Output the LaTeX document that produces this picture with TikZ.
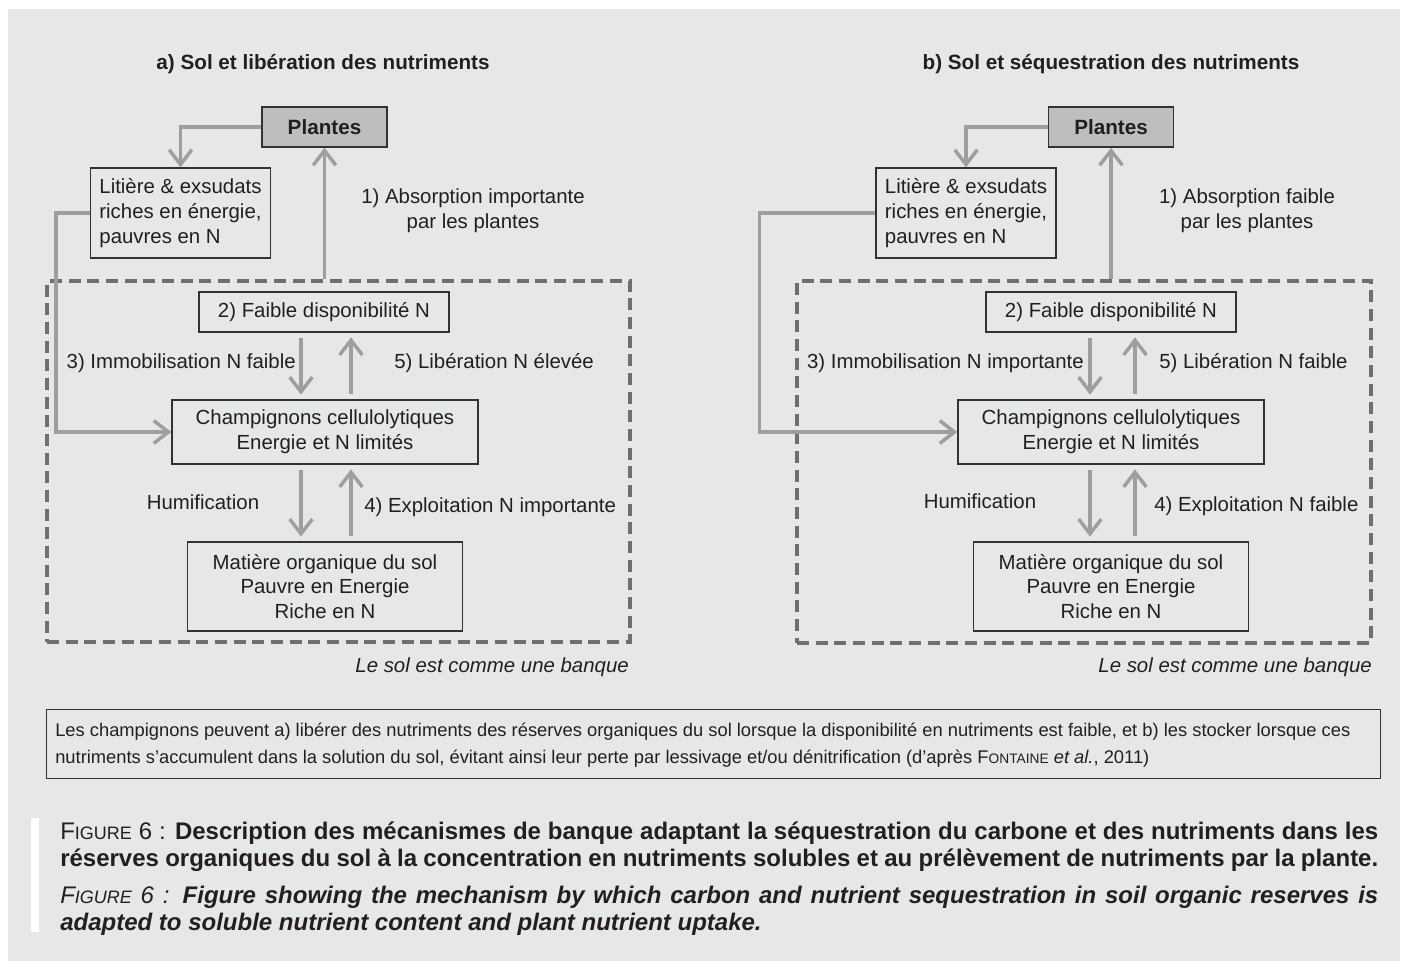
\documentclass[tikz,border=0pt]{standalone}
\usepackage{fontspec}
\setmainfont{Liberation Sans}
\usetikzlibrary{arrows.meta,calc}
\definecolor{bg}{RGB}{230,231,232}
\definecolor{plfill}{RGB}{189,190,192}
\definecolor{arrg}{RGB}{157,158,160}
\definecolor{dashg}{RGB}{110,111,113}
\definecolor{txt}{RGB}{35,31,32}
\definecolor{bord}{RGB}{50,50,50}
\newcommand\tfont{\fontsize{15.5pt}{18pt}\selectfont\bfseries}
\newcommand\dfont{\fontsize{15.3pt}{18.5pt}\selectfont}
\newcommand\nfont{\fontsize{13.75pt}{20.25pt}\selectfont}
\newcommand\cfont{\fontsize{18pt}{20.6pt}\selectfont}
\newcommand\smc[1]{{\fontsize{13.5pt}{14pt}\selectfont #1}}
\newcommand\smn[1]{{\fontsize{10.3pt}{12pt}\selectfont #1}}
\begin{document}
\begin{tikzpicture}[x=0.75pt,y=-0.75pt,
  every node/.style={text=txt},
  box/.style={draw=bord, line width=1.1pt, fill=bg, inner sep=0pt, align=center, font=\dfont},
  plbox/.style={box, fill=plfill, font=\tfont, minimum width=93.75pt, minimum height=30pt},
  arr/.style={draw=arrg, line width=2.6pt, -{Straight Barb[length=11pt,width=17pt]}},
  bank/.style={draw=dashg, line width=2.6pt, dash pattern=on 9pt off 5pt, inner sep=0pt},
  lbl/.style={font=\dfont, inner sep=0pt, align=center},
  gap/.style={shorten <=3.75pt, shorten >=3.5pt}]
\useasboundingbox (0,0) rectangle (1405,967);
\fill[white] (0,0) rectangle (1405,967);
\fill[bg] (8,9) rectangle (1400,961);

% ---------- panel a ----------
\node[font=\tfont] (tA) at (323,64) {a) Sol et libération des nutriments};
\node[plbox] (plA) at (324.5,127) {Plantes};
\node[box, align=left, minimum width=135pt, minimum height=67.5pt] (litA) at (180.5,213)
  {Litière \& exsudats\\riches en énergie,\\pauvres en N};
\node[bank, minimum width=437.25pt, minimum height=270.75pt] (bankA) at (338.5,461.5) {};
\node[box, minimum width=187.5pt, minimum height=30pt] (fA) at (324,312) {2) Faible disponibilité N};
\node[box, minimum width=229.5pt, minimum height=48pt] (chA) at (325,432)
  {Champignons cellulolytiques\\Energie et N limités};
\node[box, minimum width=206.25pt, minimum height=66.75pt] (maA) at (325,586.5)
  {Matière organique du sol\\Pauvre en Energie\\Riche en N};
\node[lbl] (l1A) at (473,211) {1) Absorption importante\\par les plantes};
\node[lbl, anchor=east] (l3A) at (296,363) {3) Immobilisation N faible};
\node[lbl, anchor=west] (l5A) at (394,363) {5) Libération N élevée};
\node[lbl] (hA) at (203,502) {Humification};
\node[lbl, anchor=west] (l4A) at (364,507) {4) Exploitation N importante};
\node[lbl, anchor=east, font=\dfont\itshape] (sA) at (629,667) {Le sol est comme une banque};
\coordinate (dA) at (301,0);
\coordinate (eA) at (351,0);
\draw[arr] (plA.west) -| (litA.north);
\draw[arr] (plA.south |- bankA.north) -- (plA.south);
\draw[arr, gap] (dA |- fA.south) -- (dA |- chA.north);
\draw[arr, gap] (eA |- chA.north) -- (eA |- fA.south);
\draw[arr, gap] (dA |- chA.south) -- (dA |- maA.north);
\draw[arr, gap] (eA |- maA.north) -- (eA |- chA.south);
\draw[arr] (litA.west) -- ++(-34,0) |- (chA.west);

% ---------- panel b ----------
\node[font=\tfont] (tB) at (1111,64) {b) Sol et séquestration des nutriments};
\node[plbox] (plB) at (1111,127) {Plantes};
\node[box, align=left, minimum width=135pt, minimum height=67.5pt] (litB) at (966,213)
  {Litière \& exsudats\\riches en énergie,\\pauvres en N};
\node[bank, minimum width=430.5pt, minimum height=271.5pt] (bankB) at (1084,462) {};
\node[box, minimum width=187.5pt, minimum height=30pt] (fB) at (1111,312) {2) Faible disponibilité N};
\node[box, minimum width=229.5pt, minimum height=48pt] (chB) at (1111,432)
  {Champignons cellulolytiques\\Energie et N limités};
\node[box, minimum width=206.25pt, minimum height=66.75pt] (maB) at (1111,586.5)
  {Matière organique du sol\\Pauvre en Energie\\Riche en N};
\node[lbl] (l1B) at (1247,211) {1) Absorption faible\\par les plantes};
\node[lbl, anchor=east] (l3B) at (1084,363) {3) Immobilisation N importante};
\node[lbl, anchor=west] (l5B) at (1159,363) {5) Libération N faible};
\node[lbl] (hB) at (980,501) {Humification};
\node[lbl, anchor=west] (l4B) at (1154,506) {4) Exploitation N faible};
\node[lbl, anchor=east, font=\dfont\itshape] (sB) at (1372,667) {Le sol est comme une banque};
\coordinate (dB) at (1090,0);
\coordinate (eB) at (1135,0);
\draw[arr] (plB.west) -| (litB.north);
\draw[arr] (plB.south |- bankB.north) -- (plB.south);
\draw[arr, gap] (dB |- fB.south) -- (dB |- chB.north);
\draw[arr, gap] (eB |- chB.north) -- (eB |- fB.south);
\draw[arr, gap] (dB |- chB.south) -- (dB |- maB.north);
\draw[arr, gap] (eB |- maB.north) -- (eB |- chB.south);
\draw[arr] (litB.west) -- ++(-116,0) |- (chB.west);

% ---------- note ----------
\node[draw=bord, line width=0.8pt, fill=bg, minimum width=1000.5pt, minimum height=51.75pt,
  anchor=north west, inner sep=0pt] (note) at (46,709) {};
\node[anchor=west, font=\nfont, align=left, inner sep=0pt] (noteT) at (55,745.5)
  {Les champignons peuvent a) libérer des nutriments des réserves organiques du sol lorsque la disponibilité en nutriments est faible, et b) les stocker lorsque ces\\
   nutriments s’accumulent dans la solution du sol, évitant ainsi leur perte par lessivage et/ou dénitrification (d’après F\smn{ONTAINE} \textit{et al.}, 2011)};

% ---------- caption ----------
\fill[white] (31,818) rectangle (39,932);
\node[anchor=base west, inner sep=0pt, font=\cfont] (c1) at (60,839)
  {\makebox[988.5pt][s]{F\smc{IGURE} 6 : \textbf{Description des mécanismes de banque adaptant la séquestration du carbone et des nutriments dans les}}};
\node[anchor=base west, inner sep=0pt, font=\cfont] (c2) at (60,866)
  {\makebox[988.5pt][s]{\textbf{réserves organiques du sol à la concentration en nutriments solubles et au prélèvement de nutriments par la plante.}}};
\node[anchor=base west, inner sep=0pt, font=\cfont] (c3) at (60,903)
  {\makebox[988.5pt][s]{\textit{F\smc{IGURE} 6 :} \textbf{\textit{Figure showing the mechanism by which carbon and nutrient sequestration in soil organic reserves is}}}};
\node[anchor=base west, inner sep=0pt, font=\cfont] (c4) at (60,930)
  {\textbf{\textit{adapted to soluble nutrient content and plant nutrient uptake.}}};
\end{tikzpicture}
\end{document}
